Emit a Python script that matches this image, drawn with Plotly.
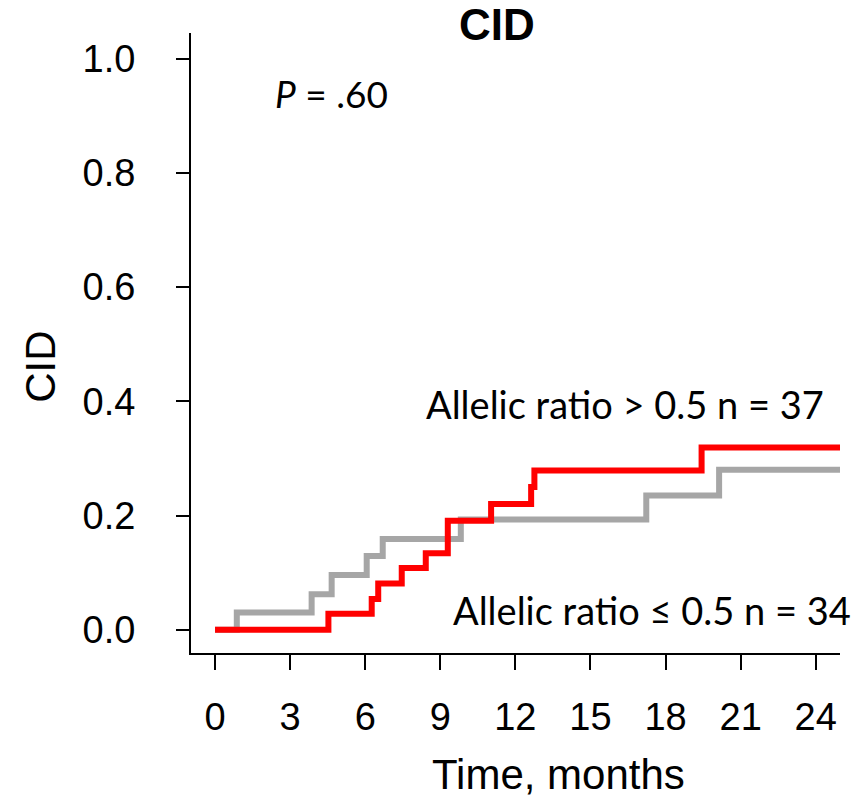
import plotly.graph_objects as go

# Cumulative incidence of CID by allelic ratio group (step functions)
gray_times = [0, 0.87, 3.86, 4.66, 6.06, 6.70, 9.82, 17.23, 20.14, 25.5]
gray_cid = [0, 0.030, 0.062, 0.096, 0.129, 0.159, 0.193, 0.235, 0.280, 0.280]

red_times = [0, 4.53, 6.26, 6.52, 7.46, 8.42, 9.30, 11.03, 12.63, 12.76, 19.44, 25.5]
red_cid = [0, 0.028, 0.054, 0.081, 0.108, 0.134, 0.191, 0.220, 0.250, 0.279, 0.319, 0.319]

x_ticks = [0, 3, 6, 9, 12, 15, 18, 21, 24]
y_ticks = [0.0, 0.2, 0.4, 0.6, 0.8, 1.0]
y_tick_labels = ["0.0", "0.2", "0.4", "0.6", "0.8", "1.0"]

label_high = "Allelic ratio > 0.5 n = 37"
label_low = "Allelic ratio \u2264 0.5 n = 34"
p_text = "<i>P</i> = .60"

axis_font = "Liberation Sans, Arial, sans-serif"
note_font = "Lato, Open Sans, sans-serif"

fig = go.Figure()
fig.add_trace(go.Scatter(
    x=gray_times, y=gray_cid, mode="lines", line_shape="hv",
    line=dict(color="#A6A6A6", width=6), name=label_low, hoverinfo="skip",
))
fig.add_trace(go.Scatter(
    x=red_times, y=red_cid, mode="lines", line_shape="hv",
    line=dict(color="#FF0000", width=6), name=label_high, hoverinfo="skip",
))

fig.update_layout(
    width=866, height=798,
    margin=dict(l=191, r=26, t=33, b=145),
    paper_bgcolor="white", plot_bgcolor="white",
    showlegend=False,
    font=dict(family=axis_font, color="black"),
)

fig.update_xaxes(
    range=[-0.96, 24.97], tickvals=x_ticks,
    showline=True, linewidth=2, linecolor="black",
    ticks="outside", ticklen=15, tickwidth=1.5, tickcolor="black",
    tickfont=dict(size=38, family=axis_font), ticklabelstandoff=14,
    showgrid=False, zeroline=False,
)
fig.update_yaxes(
    range=[-0.0407, 1.0447], tickvals=y_ticks, ticktext=y_tick_labels,
    showline=True, linewidth=2, linecolor="black",
    ticks="outside", ticklen=13, tickwidth=1.5, tickcolor="black",
    tickfont=dict(size=38, family=axis_font), ticklabelstandoff=33,
    showgrid=False, zeroline=False,
)

annotations = [
    dict(text="<b>CID</b>", xref="paper", yref="paper", x=0.471, y=1.0145,
         font=dict(size=44, family=axis_font)),
    dict(text="CID", xref="paper", yref="paper", x=-0.2311, y=0.4616,
         textangle=-90, font=dict(size=42, family=axis_font)),
    dict(text="Time, months", xref="paper", yref="paper", x=0.567, y=-0.196,
         font=dict(size=42, family=axis_font)),
    dict(text=p_text, xref="x", yref="y", x=4.65, y=0.938,
         font=dict(size=37, family=note_font)),
    dict(text=label_high, xref="x", yref="y", x=16.38, y=0.395,
         font=dict(size=38, family=note_font)),
    dict(text=label_low, xref="x", yref="y", x=17.45, y=0.034,
         font=dict(size=38, family=note_font)),
]
for a in annotations:
    a.update(showarrow=False, xanchor="center", yanchor="middle")
fig.update_layout(annotations=annotations)

fig.write_html("out.html")
